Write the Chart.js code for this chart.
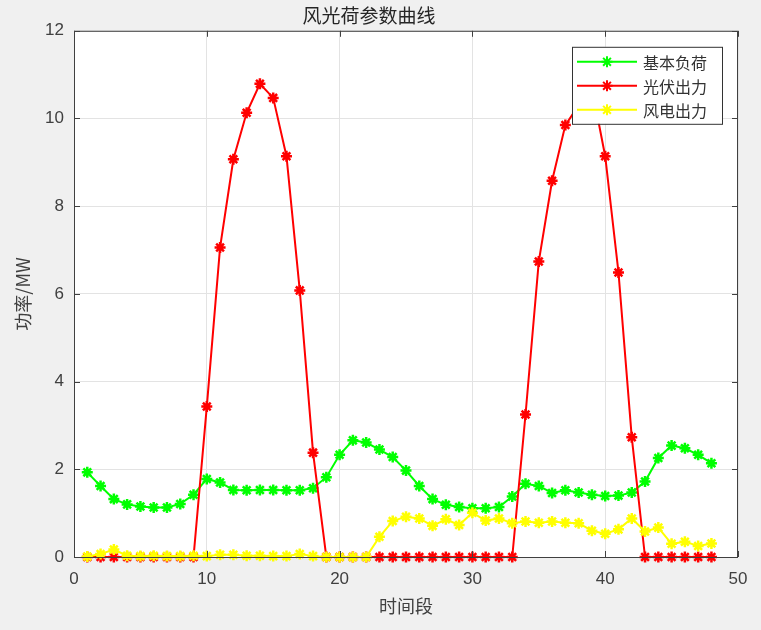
<!DOCTYPE html>
<html>
<head>
<meta charset="utf-8">
<script src="https://cdn.jsdelivr.net/npm/chart.js@4/dist/chart.umd.min.js"></script>
<style>
  body { margin: 0; background: #f0f0f0; }
  canvas { display: block; }
</style>
</head>
<body>
<canvas id="myChart" width="761" height="630"></canvas>
<script>
// data
var timeSlots = [1,2,3,4,5,6,7,8,9,10,11,12,13,14,15,16,17,18,19,20,21,22,23,24,
                 25,26,27,28,29,30,31,32,33,34,35,36,37,38,39,40,41,42,43,44,45,46,47,48];
var baseLoad = [1.93,1.62,1.32,1.20,1.15,1.13,1.13,1.21,1.42,1.78,1.70,1.53,1.52,1.53,1.53,1.52,
                1.52,1.57,1.82,2.33,2.66,2.61,2.45,2.28,1.97,1.62,1.32,1.19,1.14,1.11,1.11,1.14,
                1.38,1.67,1.62,1.46,1.52,1.47,1.42,1.39,1.40,1.47,1.72,2.26,2.54,2.48,2.33,2.14];
var pvOutput = [0,0,0,0,0,0,0,0,0,3.43,7.06,9.07,10.13,10.79,10.47,9.14,
                6.08,2.38,0,0,0,0,0,0,0,0,0,0,0,0,0,0,
                0,3.25,6.74,8.58,9.85,10.3,10.7,9.14,6.49,2.73,0,0,0,0,0,0];
var windOutput = [0.01,0.07,0.17,0.03,0.02,0.03,0.02,0.02,0.03,0.02,0.05,0.05,0.03,0.03,0.02,0.02,
                  0.07,0.02,0,0,0,0,0.46,0.82,0.92,0.88,0.71,0.86,0.73,1.01,0.83,0.88,
                  0.77,0.81,0.78,0.81,0.78,0.77,0.60,0.53,0.63,0.88,0.58,0.67,0.30,0.35,0.25,0.31];
var seriesNames = ['基本负荷', '光伏出力', '风电出力'];
var xTicks = [0, 10, 20, 30, 40, 50];
var yTicks = [0, 2, 4, 6, 8, 10, 12];

var axisColor = '#404040';
var tickFont = { family: '"Liberation Sans", Arial, sans-serif', size: 17 };
var cjkFont = '"Noto Sans CJK SC", sans-serif';

function toPoints(values) {
    return timeSlots.map((t, i) => ({ x: t, y: values[i] }));
}

function makeSet(label, values, color, order) {
    return {
        label: label,
        data: toPoints(values),
        borderColor: color,
        backgroundColor: color,
        borderWidth: 2,
        pointStyle: 'star',
        pointRadius: 5.5,
        pointBorderWidth: 2.5,
        pointBorderColor: color,
        pointBackgroundColor: color,
        tension: 0,
        clip: false,
        order: order
    };
}

// white plot area, box frame, inward ticks, legend inside the axes
const matlabLook = {
    id: 'matlabLook',
    beforeDraw(chart) {
        const { ctx, chartArea: a } = chart;
        ctx.save();
        ctx.fillStyle = '#ffffff';
        ctx.fillRect(a.left, a.top, a.width, a.height);
        ctx.restore();
    },
    afterDraw(chart) {
        const { ctx, chartArea: a, scales } = chart;
        ctx.save();
        ctx.strokeStyle = axisColor;
        ctx.lineWidth = 1;
        ctx.strokeRect(a.left + 0.5, a.top + 0.5, a.width - 1, a.height);
        ctx.beginPath();
        xTicks.forEach(v => {
            const px = Math.round(scales.x.getPixelForValue(v)) + 0.5;
            ctx.moveTo(px, a.bottom); ctx.lineTo(px, a.bottom - 6);
            ctx.moveTo(px, a.top); ctx.lineTo(px, a.top + 6);
        });
        yTicks.forEach(v => {
            const py = Math.round(scales.y.getPixelForValue(v)) + 0.5;
            ctx.moveTo(a.left, py); ctx.lineTo(a.left + 6, py);
            ctx.moveTo(a.right, py); ctx.lineTo(a.right - 6, py);
        });
        ctx.stroke();

        // legend
        const w = 150, h = 77;
        const lx = a.right - 16 - w, ly = a.top + 16;
        ctx.fillStyle = '#ffffff';
        ctx.fillRect(lx, ly, w, h);
        ctx.strokeStyle = '#333333';
        ctx.strokeRect(lx + 0.5, ly + 0.5, w, h);
        ctx.font = '16px ' + cjkFont;
        ctx.textBaseline = 'middle';
        chart.data.datasets.forEach((ds, i) => {
            const ry = ly + 15 + i * 24;
            ctx.strokeStyle = ds.borderColor;
            ctx.lineWidth = 2;
            ctx.beginPath();
            ctx.moveTo(lx + 5, ry); ctx.lineTo(lx + 65, ry);
            ctx.stroke();
            Chart.helpers.drawPoint(ctx, { pointStyle: 'star', radius: 5.5, borderWidth: 2.5 }, lx + 35, ry);
            ctx.fillStyle = '#333333';
            ctx.fillText(ds.label, lx + 71, ry + 1);
        });
        ctx.restore();
    }
};

const ctx = document.getElementById('myChart').getContext('2d');
var powerChart = new Chart(ctx, {
    type: 'line',
    data: {
        datasets: [
            makeSet(seriesNames[0], baseLoad, '#00ff00', 3),
            makeSet(seriesNames[1], pvOutput, '#ff0000', 2),
            makeSet(seriesNames[2], windOutput, '#ffff00', 1)
        ]
    },
    options: {
        responsive: false,
        animation: false,
        layout: { padding: { left: 0, right: 23, top: 0, bottom: 0 } },
        plugins: {
            legend: { display: false },
            tooltip: { enabled: false },
            title: {
                display: true,
                text: '风光荷参数曲线',
                color: '#262626',
                font: { family: cjkFont, size: 19, weight: 'normal', lineHeight: 1.2 },
                padding: { top: 4, bottom: 4 }
            }
        },
        scales: {
            x: {
                type: 'linear',
                min: xTicks[0],
                max: xTicks[xTicks.length - 1],
                afterBuildTicks: s => { s.ticks = xTicks.map(v => ({ value: v })); },
                afterFit: s => { s.height = 73; },
                grid: { color: '#e3e3e3', drawTicks: false },
                border: { display: false },
                ticks: { color: axisColor, font: tickFont, padding: 12, maxRotation: 0 },
                title: {
                    display: true, text: '时间段', color: axisColor,
                    font: { family: cjkFont, size: 18, lineHeight: 1.2 },
                    padding: { top: 0, bottom: 13 }
                }
            },
            y: {
                type: 'linear',
                min: yTicks[0],
                max: yTicks[yTicks.length - 1],
                afterBuildTicks: s => { s.ticks = yTicks.map(v => ({ value: v })); },
                afterFit: s => { s.width = 74; },
                grid: { color: '#e3e3e3', drawTicks: false },
                border: { display: false },
                ticks: { color: axisColor, font: tickFont, padding: 10 },
                title: {
                    display: true, text: '功率/MW', color: axisColor,
                    font: { family: cjkFont, size: 18, lineHeight: 1.2 },
                    padding: { top: 12, bottom: 0 }
                }
            }
        }
    },
    plugins: [matlabLook]
});
</script>
</body>
</html>
